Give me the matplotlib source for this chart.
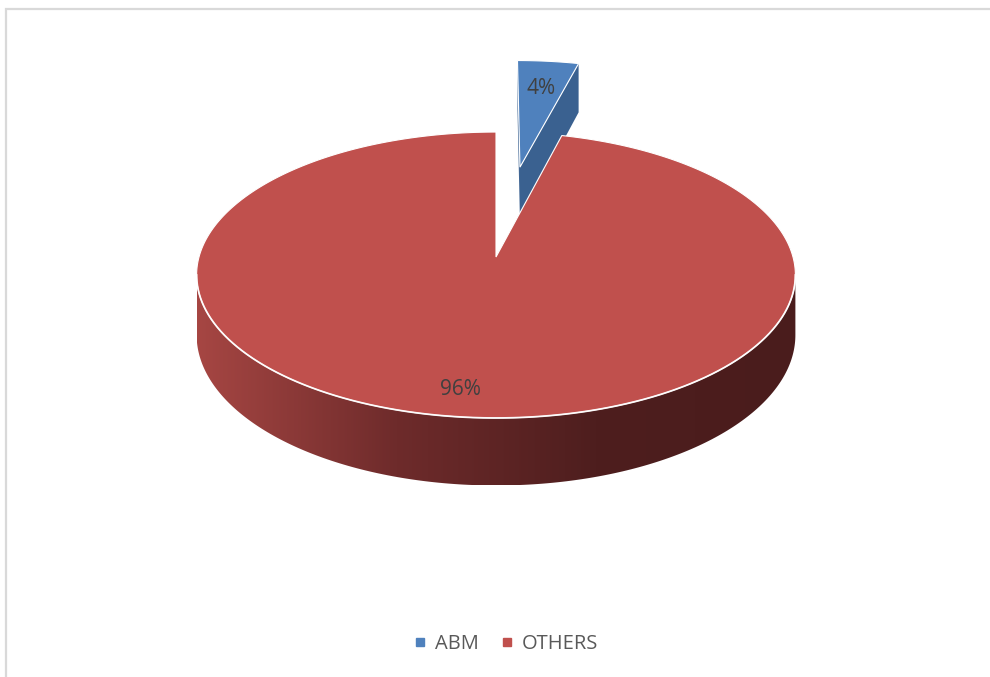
import numpy as np
import matplotlib
matplotlib.use('Agg')
import matplotlib.pyplot as plt
from matplotlib.patches import Polygon
from matplotlib.lines import Line2D
from matplotlib.colors import LinearSegmentedColormap

# ---- data ----
labels = ['ABM', 'OTHERS']
values = [4, 96]
explode = [0.70, 0.0]
top_colors = ['#4F81BD', '#C0504D']
cut_colors = ['#3A6190', '#7A2E2C']
side_stops = [['#3A6190', '#2A4A70'],
              ['#A64643', '#6E2B2B', '#4E1E1E', '#4A1C1C']]
label_radius = [0.72, 0.85]

plt.rcParams['font.family'] = ['Open Sans', 'DejaVu Sans']

W, H = 990, 677
fig = plt.figure(figsize=(W / 100, H / 100), dpi=100)
ax = fig.add_axes([0, 0, 1, 1])
ax.set_xlim(0, W)
ax.set_ylim(H, 0)
ax.axis('off')

# chart area border (only top / left visible)
ax.plot([6, 6, W + 5], [H + 5, 9, 9], color='#D9D9D9', lw=1.6,
        solid_joinstyle='miter', zorder=0)

# perspective projection of the pie plane
cx, cy, R, A, b, D = 496, 257, 297, 140.7, 0.126, 59


def proj(X, S, h=0.0):
    X = np.asarray(X, float)
    S = np.asarray(S, float)
    w = 1 + b * S
    return cx + R * X / w, cy - A * S / w + h * D / w


def unit(a):
    r = np.deg2rad(a)
    return np.sin(r), np.cos(r)


total = float(sum(values))
fr = np.array(values) / total
starts = np.concatenate([[0], np.cumsum(fr)[:-1]]) * 360
ends = np.cumsum(fr) * 360
mids = (starts + ends) / 2

sil = np.rad2deg(np.arccos(-b))  # silhouette angles
vis_lo, vis_hi = sil, 360 - sil

# far slices first
order = sorted(range(len(values)),
               key=lambda i: -explode[i] * unit(mids[i])[1])

for i in order:
    a0, a1 = starts[i], ends[i]
    ux, us = unit(mids[i])
    ox, osv = explode[i] * ux, explode[i] * us

    # cut faces (radial sides)
    for edge, sign in ((a1, 1), (a0, -1)):
        ex, es = unit(edge)
        pts = [proj(ox, osv, 0), proj(ox + ex, osv + es, 0),
               proj(ox + ex, osv + es, 1), proj(ox, osv, 1)]
        xs = np.array([p[0] for p in pts])
        ys = np.array([p[1] for p in pts])
        area = 0.5 * np.sum(xs * np.roll(ys, -1) - np.roll(xs, -1) * ys)
        if sign * area > 1:
            ax.add_patch(Polygon(np.column_stack([xs, ys]), closed=True,
                                 facecolor=cut_colors[i], edgecolor='none',
                                 zorder=2))

    # outer rim side (front)
    lo, hi = max(a0, vis_lo), min(a1, vis_hi)
    if hi > lo:
        aa = np.linspace(lo, hi, 200)
        ex, es = unit(aa)
        tx, ty = proj(ox + ex, osv + es, 0)
        bx, by = proj(ox + ex, osv + es, 1)
        poly = np.column_stack([np.concatenate([tx, bx[::-1]]),
                                np.concatenate([ty, by[::-1]])])
        patch = Polygon(poly, closed=True, facecolor='none',
                        edgecolor='none', zorder=2)
        ax.add_patch(patch)
        cmap = LinearSegmentedColormap.from_list('side', side_stops[i])
        grad = np.linspace(0, 1, 256).reshape(1, -1)
        im = ax.imshow(grad, cmap=cmap, aspect='auto',
                       extent=[poly[:, 0].min(), poly[:, 0].max(),
                               poly[:, 1].max(), poly[:, 1].min()],
                       zorder=2, interpolation='bilinear')
        im.set_clip_path(patch)
        ax.plot(tx, ty, color='white', lw=1.3, alpha=0.9, zorder=4)

    # top face
    aa = np.linspace(a0, a1, max(int((a1 - a0) * 2), 10))
    ex, es = unit(aa)
    rx, ry = proj(ox + ex, osv + es, 0)
    c0x, c0y = proj(ox, osv, 0)
    poly = np.column_stack([np.concatenate([[c0x], rx]),
                            np.concatenate([[c0y], ry])])
    ax.add_patch(Polygon(poly, closed=True, facecolor=top_colors[i],
                         edgecolor='white', lw=0.8, zorder=3))

    # label
    lx, ly = proj(ox + label_radius[i] * ux, osv + label_radius[i] * us, 0)
    ax.text(lx, ly, f'{values[i] / total * 100:.0f}%', ha='center',
            va='center', fontsize=15, color='#404040', zorder=5)

handles = [Line2D([], [], marker='s', linestyle='none', color=c,
                  markersize=5.5) for c in top_colors]
fig.legend(handles, labels, loc='center',
           bbox_to_anchor=(506 / W, 1 - 644 / H), ncol=2, frameon=False,
           fontsize=14.5, handlelength=0.6, handletextpad=0.45,
           columnspacing=1.1, labelcolor='#595959')

fig.savefig('out.png', dpi=100)
